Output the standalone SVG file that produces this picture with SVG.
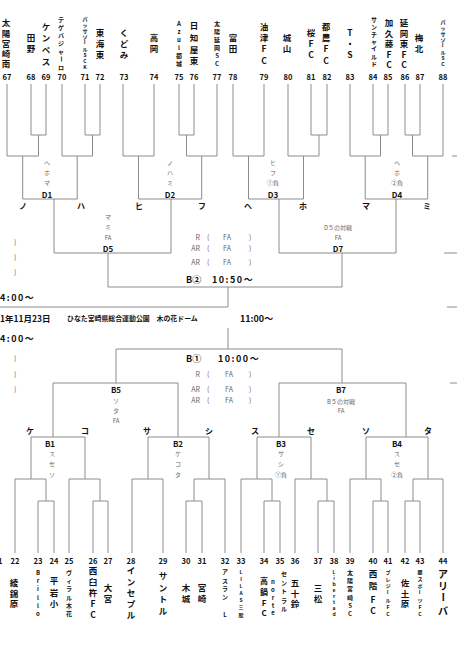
<svg xmlns="http://www.w3.org/2000/svg" width="457" height="650" viewBox="0 0 457 650">
<style>
.ln{fill:none;stroke:#8c8c8c;stroke-width:1}
text{font-family:"Noto Sans CJK JP","Noto Sans",sans-serif;fill:#111}
.num{font-size:7.5px;font-weight:bold;text-anchor:middle;dominant-baseline:central}
.nm{font-size:8.5px;font-weight:bold;text-anchor:middle;dominant-baseline:central}
.s6{font-size:6px}
.s5{font-size:5px}
.lb{font-size:6px;fill:#666;text-anchor:middle;dominant-baseline:central}
.bd{font-size:8px;font-weight:bold;text-anchor:middle;dominant-baseline:central}
.sd{font-size:8px;font-weight:bold;text-anchor:middle;dominant-baseline:central}
.rl{font-size:7px;fill:#666;dominant-baseline:central}
.tm{font-size:9px;font-weight:bold;dominant-baseline:central}
</style>
<rect width="457" height="650" fill="#fff"/>
<g id="connectors" class="ln">
<path d="M7,84V156H38.5V135M31,84V135H46V84M22.7,156V199"/>
<path d="M62,84V156H92.5V135M85,84V135H100V84M77.2,156V199"/>
<path d="M22.7,199H77.2M54,199V253"/>
<path d="M123,84V156H154V84M138.5,156V199"/>
<path d="M179,84V135H194V84M186.5,135V156H217V84M201.7,156V199"/>
<path d="M138.5,199H201.7M171,199V253"/>
<path d="M233,84V156H264V84M248.5,156V199"/>
<path d="M288,84V156H319V135M311,84V135H327V84M303.5,156V199"/>
<path d="M248.5,199H303.5M279,199V253"/>
<path d="M350,84V156H380.5V135M373,84V135H388V84M365.2,156V199"/>
<path d="M405,84V135H420V84M412.5,135V156H443V84M427.7,156V199"/>
<path d="M365.2,199H427.7M396,199V253"/>
<path d="M54,253H171M108,253V287"/>
<path d="M279,253H396M342,253V287"/>
<path d="M108,287H342M228,287V307M0,307H228"/>
<path d="M228,328V349M116,349H342M116,349V383M342,349V383"/>
<path d="M53,383H178M279,383H406M53,383V437M178,383V437M279,383V437M406,383V437"/>
<path d="M31,479V437H85V479M148,479V437H209V479M257,479V437H311V479M366,479V437H428V479"/>
<path d="M15,553V479H46V501M38,553V501H54V553M69,553V479H100V501M93,553V501H108V553"/>
<path d="M132,553V479H163V553M194,501V479H225V553M186,553V501H202V553"/>
<path d="M241,553V479H272V501M264,553V501H280V553M295,553V479H327V501M318,553V501H334V553"/>
<path d="M350,553V479H381V501M373,553V501H388V553M413,501V479H443V553M405,553V501H420V553"/>
<path d="M452,156H457M444,253H457M447,307H457M450,383H457"/>
</g>
<g id="labels-top">
<text class="lb" x="47" y="162">ヘ</text><text class="lb" x="47" y="172">ホ</text><text class="lb" x="47" y="182">マ</text><text class="bd" x="47" y="194">D1</text>
<text class="lb" x="170" y="162">ノ</text><text class="lb" x="170" y="172">ハ</text><text class="lb" x="170" y="182">ミ</text><text class="bd" x="170" y="194">D2</text>
<text class="lb" x="273" y="162">ヒ</text><text class="lb" x="273" y="172">フ</text><text class="lb" x="273" y="182">①負</text><text class="bd" x="273" y="194">D3</text>
<text class="lb" x="397" y="162">ヘ</text><text class="lb" x="397" y="172">ホ</text><text class="lb" x="397" y="182">②負</text><text class="bd" x="397" y="194">D4</text>
<text class="sd" x="23" y="205">ノ</text><text class="sd" x="81" y="205">ハ</text><text class="sd" x="139" y="205">ヒ</text><text class="sd" x="202" y="205">フ</text>
<text class="sd" x="248" y="205">ヘ</text><text class="sd" x="303" y="205">ホ</text><text class="sd" x="366" y="205">マ</text><text class="sd" x="427" y="205">ミ</text>
<text class="lb" x="108" y="216">マ</text><text class="lb" x="108" y="226">ミ</text><text class="lb" x="108" y="237">FA</text><text class="bd" x="108" y="248">D5</text>
<text class="lb" x="338" y="227">D５の対戦</text><text class="lb" x="338" y="237">FA</text><text class="bd" x="338" y="248">D7</text>
<text class="rl" x="200" y="237" text-anchor="end">R</text><text class="rl" x="207" y="237">(</text><text class="rl" x="227" y="237" text-anchor="middle">FA</text><text class="rl" x="249" y="237">)</text>
<text class="rl" x="200" y="248" text-anchor="end">AR</text><text class="rl" x="207" y="248">(</text><text class="rl" x="227" y="248" text-anchor="middle">FA</text><text class="rl" x="249" y="248">)</text>
<text class="rl" x="200" y="262" text-anchor="end">AR</text><text class="rl" x="207" y="262">(</text><text class="rl" x="227" y="262" text-anchor="middle">FA</text><text class="rl" x="249" y="262">)</text>
<text class="tm" x="186" y="279">B②</text><text class="tm" x="212" y="279" letter-spacing="1.5">10:50〜</text>
<text class="rl" x="14" y="242">)</text><text class="rl" x="14" y="257">)</text><text class="rl" x="14" y="272">)</text>
<text class="tm" x="0" y="297" letter-spacing="1.5">4:00〜</text>
<text class="tm" x="0" y="318" style="font-size:8.5px">1年11月23日</text>
<text class="tm" x="67" y="318" style="font-size:6.9px">ひなた宮崎県総合運動公園　木の花ドーム</text>
<text class="tm" x="240" y="318">11:00〜</text>
</g>
<g id="labels-bottom">
<text class="tm" x="0" y="338" letter-spacing="1.5">4:00〜</text>
<text class="rl" x="14" y="358">)</text><text class="rl" x="14" y="374">)</text><text class="rl" x="14" y="389">)</text>
<text class="tm" x="186" y="358">B①</text><text class="tm" x="218" y="358" letter-spacing="1.5">10:00〜</text>
<text class="rl" x="200" y="374" text-anchor="end">R</text><text class="rl" x="207" y="374">(</text><text class="rl" x="229" y="374" text-anchor="middle">FA</text><text class="rl" x="249" y="374">)</text>
<text class="rl" x="200" y="389" text-anchor="end">AR</text><text class="rl" x="207" y="389">(</text><text class="rl" x="229" y="389" text-anchor="middle">FA</text><text class="rl" x="249" y="389">)</text>
<text class="rl" x="200" y="400" text-anchor="end">AR</text><text class="rl" x="207" y="400">(</text><text class="rl" x="229" y="400" text-anchor="middle">FA</text><text class="rl" x="249" y="400">)</text>
<text class="bd" x="116" y="389">B5</text><text class="lb" x="116" y="400">ソ</text><text class="lb" x="116" y="410">タ</text><text class="lb" x="116" y="420">FA</text>
<text class="bd" x="341" y="389">B7</text><text class="lb" x="341" y="401">B５の対戦</text><text class="lb" x="341" y="410">FA</text>
<text class="sd" x="30" y="430">ケ</text><text class="sd" x="85" y="430">コ</text><text class="sd" x="147" y="430">サ</text><text class="sd" x="209" y="430">シ</text>
<text class="sd" x="255" y="430">ス</text><text class="sd" x="311" y="430">セ</text><text class="sd" x="366" y="430">ソ</text><text class="sd" x="428" y="430">タ</text>
<text class="bd" x="50" y="443">B1</text><text class="lb" x="52" y="453">ス</text><text class="lb" x="52" y="463">セ</text><text class="lb" x="52" y="474">ソ</text>
<text class="bd" x="178" y="443">B2</text><text class="lb" x="178" y="453">ケ</text><text class="lb" x="178" y="463">コ</text><text class="lb" x="178" y="474">タ</text>
<text class="bd" x="281" y="443">B3</text><text class="lb" x="281" y="453">サ</text><text class="lb" x="281" y="463">シ</text><text class="lb" x="281" y="474">①負</text>
<text class="bd" x="397" y="443">B4</text><text class="lb" x="397" y="453">ス</text><text class="lb" x="397" y="463">セ</text><text class="lb" x="397" y="474">②負</text>
</g>
<g id="t67"><text class="num" x="7" y="76">67</text><text class="nm"><tspan x="6" y="22">太</tspan><tspan x="6" y="33">陽</tspan><tspan x="6" y="43">宮</tspan><tspan x="6" y="53">崎</tspan><tspan x="6" y="63">南</tspan></text></g>
<g id="t68"><text class="num" x="31" y="76">68</text><text class="nm"><tspan x="31" y="37">田</tspan><tspan x="31" y="48">野</tspan></text></g>
<g id="t69"><text class="num" x="46" y="76">69</text><text class="nm"><tspan x="46" y="26">ケ</tspan><tspan x="46" y="37">ン</tspan><tspan x="46" y="49">ペ</tspan><tspan x="46" y="61">ス</tspan></text></g>
<g id="t70"><text class="num" x="62" y="76">70</text><text class="nm s6"><tspan x="61" y="19">テ</tspan><tspan x="61" y="27">ゲ</tspan><tspan x="61" y="35">バ</tspan><tspan x="61" y="43">ジ</tspan><tspan x="61" y="51">ャ</tspan><tspan x="61" y="67">ロ</tspan></text><text class="nm s6" x="61" y="59" transform="rotate(90 61 59)">ー</text></g>
<g id="t71"><text class="num" x="85" y="76">71</text><text class="nm s5"><tspan x="85" y="18">パ</tspan><tspan x="85" y="24">ッ</tspan><tspan x="85" y="30">サ</tspan><tspan x="85" y="36">ゾ</tspan><tspan x="85" y="48">ル</tspan><tspan x="85" y="54">S</tspan><tspan x="85" y="60">C</tspan><tspan x="85" y="66">K</tspan></text><text class="nm s5" x="85" y="42" transform="rotate(90 85 42)">ー</text></g>
<g id="t72"><text class="num" x="100" y="76">72</text><text class="nm"><tspan x="100" y="32">東</tspan><tspan x="100" y="43">海</tspan><tspan x="100" y="54">東</tspan></text></g>
<g id="t73"><text class="num" x="124" y="76">73</text><text class="nm"><tspan x="124" y="32">く</tspan><tspan x="124" y="43">ど</tspan><tspan x="124" y="54">み</tspan></text></g>
<g id="t74"><text class="num" x="154" y="76">74</text><text class="nm"><tspan x="154" y="37">高</tspan><tspan x="154" y="48">岡</tspan></text></g>
<g id="t75"><text class="num" x="179" y="76">75</text><text class="nm s6"><tspan x="179" y="23">A</tspan><tspan x="179" y="31">z</tspan><tspan x="179" y="39">u</tspan><tspan x="179" y="47">l</tspan><tspan x="179" y="55">都</tspan><tspan x="179" y="63">城</tspan></text></g>
<g id="t76"><text class="num" x="194" y="76">76</text><text class="nm"><tspan x="194" y="25">日</tspan><tspan x="194" y="37">知</tspan><tspan x="194" y="49">屋</tspan><tspan x="194" y="60">東</tspan></text></g>
<g id="t77"><text class="num" x="217" y="76">77</text><text class="nm s6"><tspan x="217" y="23">太</tspan><tspan x="217" y="31">陽</tspan><tspan x="217" y="39">延</tspan><tspan x="217" y="47">岡</tspan><tspan x="217" y="55">S</tspan><tspan x="217" y="63">C</tspan></text></g>
<g id="t78"><text class="num" x="233" y="76">78</text><text class="nm"><tspan x="233" y="37">富</tspan><tspan x="233" y="48">田</tspan></text></g>
<g id="t79"><text class="num" x="264" y="76">79</text><text class="nm"><tspan x="264" y="26">油</tspan><tspan x="264" y="37">津</tspan><tspan x="264" y="48">F</tspan><tspan x="264" y="60">C</tspan></text></g>
<g id="t80"><text class="num" x="288" y="76">80</text><text class="nm"><tspan x="287" y="37">城</tspan><tspan x="287" y="48">山</tspan></text></g>
<g id="t81"><text class="num" x="311" y="76">81</text><text class="nm"><tspan x="311" y="32">桜</tspan><tspan x="311" y="43">F</tspan><tspan x="311" y="54">C</tspan></text></g>
<g id="t82"><text class="num" x="327" y="76">82</text><text class="nm"><tspan x="326" y="26">都</tspan><tspan x="326" y="37">農</tspan><tspan x="326" y="48">F</tspan><tspan x="326" y="60">C</tspan></text></g>
<g id="t83"><text class="num" x="350" y="76">83</text><text class="nm"><tspan x="350" y="32">T</tspan><tspan x="350" y="43">・</tspan><tspan x="350" y="54">S</tspan></text></g>
<g id="t84"><text class="num" x="373" y="76">84</text><text class="nm s6"><tspan x="374" y="19">サ</tspan><tspan x="374" y="26">ン</tspan><tspan x="374" y="34">チ</tspan><tspan x="374" y="41">ャ</tspan><tspan x="374" y="48">イ</tspan><tspan x="374" y="56">ル</tspan><tspan x="374" y="63">ド</tspan></text></g>
<g id="t85"><text class="num" x="388" y="76">85</text><text class="nm"><tspan x="389" y="22">加</tspan><tspan x="389" y="33">久</tspan><tspan x="389" y="43">藤</tspan><tspan x="389" y="54">F</tspan><tspan x="389" y="64">C</tspan></text></g>
<g id="t86"><text class="num" x="405" y="76">86</text><text class="nm"><tspan x="404" y="22">延</tspan><tspan x="404" y="33">岡</tspan><tspan x="404" y="43">東</tspan><tspan x="404" y="54">F</tspan><tspan x="404" y="64">C</tspan></text></g>
<g id="t87"><text class="num" x="420" y="76">87</text><text class="nm"><tspan x="419" y="37">梅</tspan><tspan x="419" y="48">北</tspan></text></g>
<g id="t88"><text class="num" x="443" y="76">88</text><text class="nm s5"><tspan x="443" y="21">パ</tspan><tspan x="443" y="27">ッ</tspan><tspan x="443" y="33">サ</tspan><tspan x="443" y="39">ゾ</tspan><tspan x="443" y="51">ル</tspan><tspan x="443" y="57">S</tspan><tspan x="443" y="63">C</tspan></text><text class="nm s5" x="443" y="45" transform="rotate(90 443 45)">ー</text></g>
<g id="t21"><text class="num" x="-2" y="560">21</text></g>
<g id="t22"><text class="num" x="15" y="560">22</text><text class="nm"><tspan x="14" y="582">綾</tspan><tspan x="14" y="593">錦</tspan><tspan x="14" y="603">原</tspan></text></g>
<g id="t23"><text class="num" x="38" y="560">23</text><text class="nm s6"><tspan x="38" y="572">B</tspan><tspan x="38" y="580">r</tspan><tspan x="38" y="588">i</tspan><tspan x="38" y="597">l</tspan><tspan x="38" y="605">l</tspan><tspan x="38" y="613">o</tspan></text></g>
<g id="t24"><text class="num" x="54" y="560">24</text><text class="nm"><tspan x="54" y="580">平</tspan><tspan x="54" y="592">岩</tspan><tspan x="54" y="603">小</tspan></text></g>
<g id="t25"><text class="num" x="69" y="560">25</text><text class="nm s6"><tspan x="69" y="572">ヴ</tspan><tspan x="69" y="580">ィ</tspan><tspan x="69" y="588">ラ</tspan><tspan x="69" y="597">ル</tspan><tspan x="69" y="605">木</tspan><tspan x="69" y="613">花</tspan></text></g>
<g id="t26"><text class="num" x="93" y="560">26</text><text class="nm"><tspan x="93" y="570">西</tspan><tspan x="93" y="581">臼</tspan><tspan x="93" y="592">杵</tspan><tspan x="93" y="603">F</tspan><tspan x="93" y="614">C</tspan></text></g>
<g id="t27"><text class="num" x="108" y="560">27</text><text class="nm"><tspan x="108" y="587">大</tspan><tspan x="108" y="598">宮</tspan></text></g>
<g id="t28"><text class="num" x="131" y="560">28</text><text class="nm"><tspan x="131" y="570">イ</tspan><tspan x="131" y="581">ン</tspan><tspan x="131" y="592">セ</tspan><tspan x="131" y="603">プ</tspan><tspan x="131" y="614">ル</tspan></text></g>
<g id="t29"><text class="num" x="163" y="560">29</text><text class="nm"><tspan x="163" y="575">サ</tspan><tspan x="163" y="587">ン</tspan><tspan x="163" y="598">ト</tspan><tspan x="163" y="610">ル</tspan></text></g>
<g id="t30"><text class="num" x="186" y="560">30</text><text class="nm"><tspan x="186" y="587">木</tspan><tspan x="186" y="598">城</tspan></text></g>
<g id="t31"><text class="num" x="202" y="560">31</text><text class="nm"><tspan x="202" y="587">宮</tspan><tspan x="202" y="598">崎</tspan></text></g>
<g id="t32"><text class="num" x="225" y="560">32</text><text class="nm s6"><tspan x="225" y="571">ア</tspan><tspan x="225" y="580">ス</tspan><tspan x="225" y="588">ラ</tspan><tspan x="225" y="596">ン</tspan><tspan x="225" y="614">L</tspan></text></g>
<g id="t33"><text class="num" x="241" y="560">33</text><text class="nm s5"><tspan x="241" y="571">L</tspan><tspan x="241" y="578">I</tspan><tspan x="241" y="585">L</tspan><tspan x="241" y="592">A</tspan><tspan x="241" y="599">S</tspan><tspan x="241" y="606">三</tspan><tspan x="241" y="614">股</tspan></text></g>
<g id="t34"><text class="num" x="264" y="560">34</text><text class="nm" style="font-size:8px"><tspan x="264" y="580">高</tspan><tspan x="264" y="591">鍋</tspan><tspan x="264" y="602">F</tspan><tspan x="264" y="612">C</tspan></text></g>
<g id="t35"><text class="num" x="280" y="560">35</text><text class="nm s6"><tspan x="284" y="573">セ</tspan><tspan x="284" y="582">ン</tspan><tspan x="284" y="590">ト</tspan><tspan x="284" y="600">ラ</tspan><tspan x="284" y="608">ル</tspan></text><text class="nm s6"><tspan x="273" y="581">n</tspan><tspan x="273" y="589">o</tspan><tspan x="273" y="597">r</tspan><tspan x="273" y="605">t</tspan><tspan x="273" y="612">e</tspan></text></g>
<g id="t36"><text class="num" x="295" y="560">36</text><text class="nm"><tspan x="295" y="582">五</tspan><tspan x="295" y="593">十</tspan><tspan x="295" y="603">鈴</tspan></text></g>
<g id="t37"><text class="num" x="318" y="560">37</text><text class="nm"><tspan x="318" y="587">三</tspan><tspan x="318" y="598">松</tspan></text></g>
<g id="t38"><text class="num" x="334" y="560">38</text><text class="nm s5"><tspan x="334" y="571">L</tspan><tspan x="334" y="577">i</tspan><tspan x="334" y="583">b</tspan><tspan x="334" y="589">e</tspan><tspan x="334" y="595">r</tspan><tspan x="334" y="601">t</tspan><tspan x="334" y="607">a</tspan><tspan x="334" y="613">d</tspan></text></g>
<g id="t39"><text class="num" x="350" y="560">39</text><text class="nm s6"><tspan x="350" y="572">太</tspan><tspan x="350" y="580">陽</tspan><tspan x="350" y="588">宮</tspan><tspan x="350" y="597">崎</tspan><tspan x="350" y="605">S</tspan><tspan x="350" y="613">C</tspan></text></g>
<g id="t40"><text class="num" x="373" y="560">40</text><text class="nm"><tspan x="373" y="573">西</tspan><tspan x="373" y="585">階</tspan><tspan x="373" y="599">F</tspan><tspan x="373" y="610">C</tspan></text></g>
<g id="t41"><text class="num" x="388" y="560">41</text><text class="nm s5"><tspan x="388" y="571">プ</tspan><tspan x="388" y="578">レ</tspan><tspan x="388" y="585">ジ</tspan><tspan x="388" y="599">ル</tspan><tspan x="388" y="606">F</tspan><tspan x="388" y="613">C</tspan></text><text class="nm s5" x="388" y="592" transform="rotate(90 388 592)">ー</text></g>
<g id="t42"><text class="num" x="405" y="560">42</text><text class="nm"><tspan x="405" y="582">佐</tspan><tspan x="405" y="593">土</tspan><tspan x="405" y="603">原</tspan></text></g>
<g id="t43"><text class="num" x="420" y="560">43</text><text class="nm s5"><tspan x="420" y="571">鵬</tspan><tspan x="420" y="578">ス</tspan><tspan x="420" y="585">ポ</tspan><tspan x="420" y="599">ツ</tspan><tspan x="420" y="606">F</tspan><tspan x="420" y="613">C</tspan></text><text class="nm s5" x="420" y="592" transform="rotate(90 420 592)">ー</text></g>
<g id="t44"><text class="num" x="443" y="560">44</text><text class="nm" style="font-size:10px"><tspan x="443" y="573">ア</tspan><tspan x="443" y="585">リ</tspan><tspan x="443" y="610">バ</tspan></text><text class="nm" style="font-size:10px" x="443" y="597" transform="rotate(90 443 597)">ー</text></g>
</svg>
